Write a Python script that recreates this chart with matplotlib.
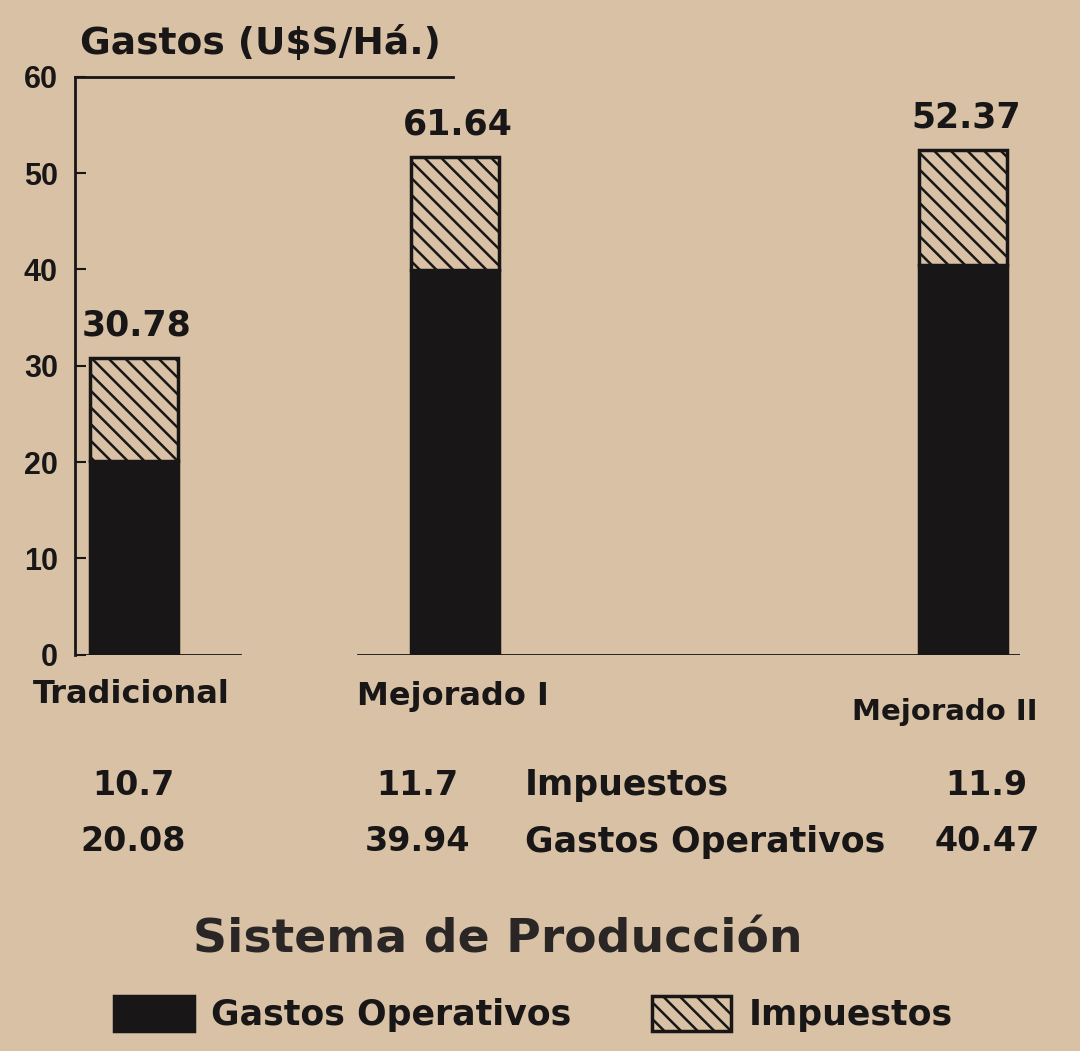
import matplotlib as mpl

mpl.use('Agg')
import matplotlib.pyplot as plt
import matplotlib.transforms as mtransforms

# data
sistemas = ['Tradicional', 'Mejorado I', 'Mejorado II']
gastos_operativos = [20.08, 39.94, 40.47]
impuestos = [10.7, 11.7, 11.9]
total_labels = ['30.78', '61.64', '52.37']
y_ticks = [0, 10, 20, 30, 40, 50, 60]

# layout (uneven spacing as in the original)
xpos = [0.0, 1.0, 2.583]
bg = '#d8c1a4'
ink = '#181616'

plt.rcParams['font.family'] = ['DejaVu Sans']
plt.rcParams['hatch.linewidth'] = 1.8
plt.rcParams['hatch.color'] = ink

fig = plt.figure(figsize=(10.8, 10.51), dpi=100, facecolor=bg)
ax = fig.add_axes([0.069, 0.377, 0.875, 0.55])
ax.set_facecolor(bg)

w = 0.274
b1 = ax.bar(xpos, gastos_operativos, w, color=ink, edgecolor=ink, lw=2.5,
            label='Gastos Operativos')
b2 = ax.bar(xpos, impuestos, w, bottom=gastos_operativos, color=bg,
            edgecolor=ink, lw=2.5, hatch='\\\\', label='Impuestos')

for x, g, i, t in zip(xpos, gastos_operativos, impuestos, total_labels):
    ax.text(x + 0.01, g + i + 1.6, t, ha='center', va='bottom',
            fontsize=25, fontweight='bold', color=ink)

ax.set_xlim(-0.184, 2.76)
ax.set_ylim(0, 60)
for s in ['top', 'right', 'bottom']:
    ax.spines[s].set_visible(False)
ax.spines['left'].set_color(ink)
ax.spines['left'].set_linewidth(2)
ax.axhline(60, xmin=0, xmax=0.40, color=ink, lw=2, clip_on=False)
ax.axhline(0, xmin=0, xmax=0.175, color=ink, lw=2)
ax.axhline(0, xmin=0.30, xmax=1, color=ink, lw=2)

ax.set_yticks(y_ticks)
ax.set_yticklabels([str(v) for v in y_ticks], fontsize=22, fontweight='bold',
                   color=ink, family='Liberation Sans')
ax.tick_params(axis='y', direction='in', length=8, width=1.5, pad=12,
               colors=ink)
ax.set_xticks([])

fig.text(0.074, 0.958, 'Gastos (U$S/Há.)', fontsize=27, fontweight='bold',
         color=ink, va='center', ha='left')

tr = mtransforms.blended_transform_factory(ax.transData, fig.transFigure)
cat_y = [0.339, 0.337, 0.3225]
cat_dx = [-0.007, -0.005, -0.055]
cat_size = [23, 23, 21]
for x, name, cy, dx, fs in zip(xpos, sistemas, cat_y, cat_dx, cat_size):
    ax.text(x + dx, cy, name, transform=tr, ha='center', va='center',
            fontsize=fs, fontweight='bold', color=ink)

val_dx = [0.0, -0.115, 0.075]
for x, i, g, dx in zip(xpos, impuestos, gastos_operativos, val_dx):
    ax.text(x + dx, 0.253, f'{i:g}', transform=tr, ha='center', va='center',
            fontsize=24, fontweight='bold', color=ink)
    ax.text(x + dx, 0.199, f'{g:.2f}', transform=tr, ha='center', va='center',
            fontsize=24, fontweight='bold', color=ink)
ax.text(1.218, 0.253, 'Impuestos', transform=tr, ha='left', va='center',
        fontsize=25, fontweight='bold', color=ink)
ax.text(1.218, 0.199, 'Gastos Operativos', transform=tr, ha='left',
        va='center', fontsize=25, fontweight='bold', color=ink)

fig.text(0.461, 0.106, 'Sistema de Producción', ha='center', va='center',
         fontsize=34, fontweight='bold', color='#2a2626')

fig.legend(handles=[b1, b2], loc='lower center', bbox_to_anchor=(0.494, -0.012),
           ncol=2, frameon=False, handlelength=2.3, handleheight=1.2,
           columnspacing=2.3, handletextpad=0.5, labelcolor=ink,
           prop={'weight': 'bold', 'size': 25})

fig.savefig('out.png', dpi=100, facecolor=bg)
